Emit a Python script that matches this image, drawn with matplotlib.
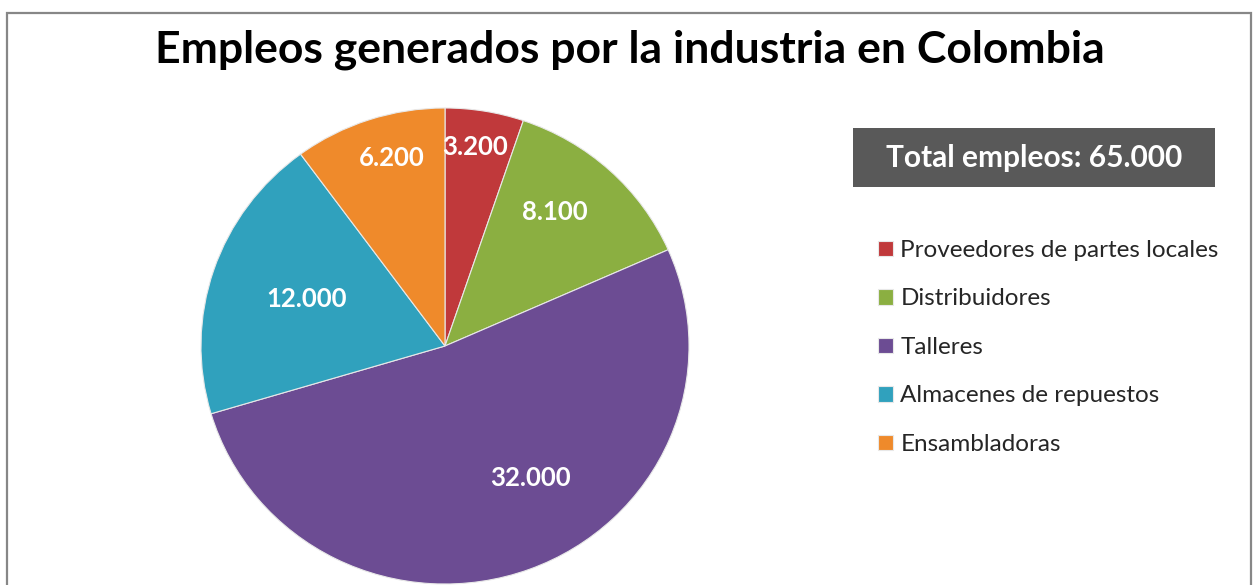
import matplotlib
matplotlib.use("Agg")
import matplotlib.pyplot as plt
from matplotlib.patches import Rectangle
import numpy as np

plt.rcParams['font.family'] = ['Lato', 'DejaVu Sans']

categorias = ['Proveedores de partes locales', 'Distribuidores', 'Talleres',
              'Almacenes de repuestos', 'Ensambladoras']
empleos = [3200, 8100, 32000, 12000, 6200]
etiquetas = ['3.200', '8.100', '32.000', '12.000', '6.200']
colores = ['#C0393B', '#8BAF41', '#6C4C93', '#30A1BD', '#EF8A2B']
titulo = 'Empleos generados por la industria en Colombia'
total_txt = 'Total empleos: 65.000'

W, H = 1257, 585
fig = plt.figure(figsize=(W / 100, H / 100), dpi=100)

cx, cy, rx, ry = 445, 346, 244, 238
ax = fig.add_axes([(cx - rx) / W, (H - cy - ry) / H, 2 * rx / W, 2 * ry / H])
wedges, _ = ax.pie(empleos, colors=colores, startangle=90, counterclock=False,
                   wedgeprops=dict(edgecolor='#e8e8e8', linewidth=0.8))
ax.set_aspect('auto')
ax.set_xlim(-1, 1)
ax.set_ylim(-1, 1)
ax.axis('off')

# data labels: radius and angle shift per slice (Excel "best fit")
lab_r = [0.845, 0.72, 0.655, 0.60, 0.82]
lab_da = [1.0, 3.7, 12.0, -0.6, -2.7]
for w, t, r, da in zip(wedges, etiquetas, lab_r, lab_da):
    ang = np.deg2rad((w.theta1 + w.theta2) / 2 + da)
    ax.text(r * np.cos(ang), r * np.sin(ang), t, color='white', fontsize=18.5,
            fontweight='bold', ha='center', va='center')

fig.text(630 / W, 1 - 50 / H, titulo, fontsize=32, fontweight='bold',
         ha='center', va='center', color='#000000')

# total box
fig.patches.append(Rectangle((853 / W, 1 - 187 / H), (1215 - 853) / W, 59 / H,
                             transform=fig.transFigure, facecolor='#595959',
                             edgecolor='none'))
fig.text(1034 / W, 1 - 158 / H, total_txt, fontsize=21.5, fontweight='bold',
         color='white', ha='center', va='center')

leg = fig.legend(wedges, categorias, loc='upper left',
                 bbox_to_anchor=(878 / W, 1 - 240 / H), frameon=False,
                 fontsize=17.5, handlelength=0.62, handleheight=0.6,
                 handletextpad=0.3, labelspacing=1.13, borderpad=0,
                 borderaxespad=0)
for t in leg.get_texts():
    t.set_color('#262626')

# outer chart frame
fig.patches.append(Rectangle((7 / W, -0.05), (1251 - 7) / W, 1.05 - 13 / H,
                             transform=fig.transFigure, facecolor='none',
                             edgecolor='#878787', linewidth=1.6))

fig.savefig('out.png', dpi=100)
